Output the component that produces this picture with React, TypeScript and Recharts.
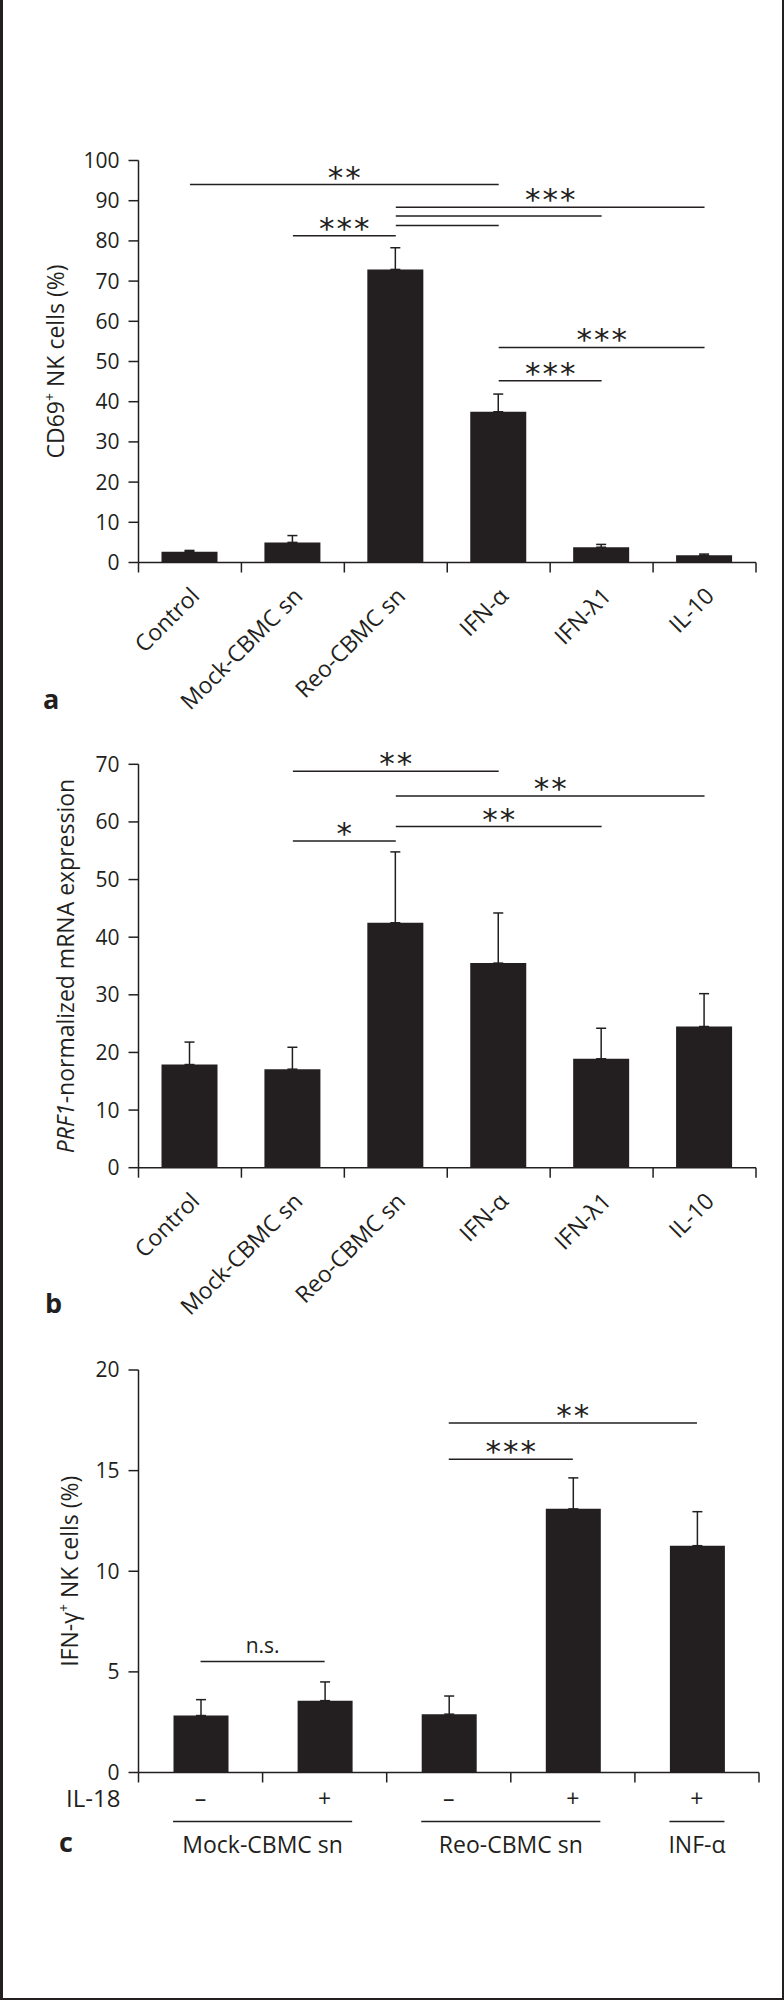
import React from 'react';
import { BarChart, Bar, XAxis, YAxis, ErrorBar, ReferenceLine } from 'recharts';

const INK = '#231f20';
const FONT = "'Open Sans', 'Noto Sans', sans-serif";
const STAR_FONT = "'DejaVu Sans', sans-serif";

// ---------- Panel a: CD69+ NK cells (%) ----------
const catsAB = ['Control', 'Mock-CBMC sn', 'Reo-CBMC sn', 'IFN-α', 'IFN-λ1', 'IL-10'];
const cd69Mean = [2.7, 5.0, 72.9, 37.5, 3.8, 1.8];
const cd69Err = [0.3, 1.7, 5.4, 4.4, 0.7, 0.3];
const ticksA = [0, 10, 20, 30, 40, 50, 60, 70, 80, 90, 100];
const sigFromA = ['Control', 'Mock-CBMC sn', 'Reo-CBMC sn', 'Reo-CBMC sn', 'Reo-CBMC sn', 'IFN-α', 'IFN-α'];
const sigToA = ['IFN-α', 'Reo-CBMC sn', 'IL-10', 'IFN-λ1', 'IFN-α', 'IL-10', 'IFN-λ1'];
const sigYA = [94, 81.3, 88.4, 86.2, 83.8, 53.5, 45.2];
const sigLabelA = ['**', '***', '***', '', '', '***', '***'];

// ---------- Panel b: PRF1 mRNA ----------
const prf1Mean = [17.9, 17.1, 42.5, 35.5, 18.9, 24.5];
const prf1Err = [3.9, 3.8, 12.3, 8.7, 5.3, 5.7];
const ticksB = [0, 10, 20, 30, 40, 50, 60, 70];
const sigFromB = ['Mock-CBMC sn', 'Reo-CBMC sn', 'Reo-CBMC sn', 'Mock-CBMC sn'];
const sigToB = ['IFN-α', 'IL-10', 'IFN-λ1', 'Reo-CBMC sn'];
const sigYB = [68.8, 64.5, 59.2, 56.7];
const sigLabelB = ['**', '**', '**', '*'];

// ---------- Panel c: IFN-γ+ NK cells (%) ----------
const cGroup = ['Mock-CBMC sn', 'Mock-CBMC sn', 'Reo-CBMC sn', 'Reo-CBMC sn', 'INF-α'];
const cIL18 = ['–', '+', '–', '+', '+'];
const ifngMean = [2.83, 3.57, 2.9, 13.1, 11.27];
const ifngErr = [0.79, 0.93, 0.9, 1.54, 1.69];
const ticksC = [0, 5, 10, 15, 20];
const sigFromC = [2, 2, 0];
const sigToC = [4, 3, 1];
const sigYC = [17.37, 15.56, 5.52];
const sigLabelC = ['**', '***', 'n.s.'];

const dataA = catsAB.map((name, i) => ({ name, v: cd69Mean[i], e: [0, cd69Err[i]] }));
const dataB = catsAB.map((name, i) => ({ name, v: prf1Mean[i], e: [0, prf1Err[i]] }));
const cKeys = cGroup.map((g, i) => `${g} ${cIL18[i]}`);
const dataC = cKeys.map((name, i) => ({ name, v: ifngMean[i], e: [0, ifngErr[i]] }));

const BAR_AB = 56;
const BAR_C = 55;

const starContent = (label: string) => (p: any) => {
  const vb = p.viewBox || {};
  if (!label || vb.x == null) return null;
  const isText = label === 'n.s.';
  return (
    <text
      x={vb.x + (vb.width || 0) / 2 + (isText ? 0 : 1)}
      y={isText ? vb.y - 8 : vb.y + 3}
      textAnchor="middle"
      fontSize={isText ? 21 : 31}
      fontFamily={isText ? FONT : STAR_FONT}
      letterSpacing={isText ? 0 : 2}
      fill={INK}
    >
      {label}
    </text>
  );
};

const RotTick = (props: any) => {
  const { x, y, payload, index } = props;
  const half = payload && payload.offset != null ? payload.offset : 0;
  const isLast = index === catsAB.length - 1;
  return (
    <g>
      <line x1={x - half} x2={x - half} y1={y} y2={y + 10} stroke={INK} strokeWidth={1.5} />
      {isLast && <line x1={x + half} x2={x + half} y1={y} y2={y + 10} stroke={INK} strokeWidth={1.5} />}
      <text
        transform={`translate(${x + 11},${y + 35}) rotate(-45)`}
        textAnchor="end"
        fontSize={23}
        fontFamily={FONT}
        fill={INK}
      >
        {payload.value}
      </text>
    </g>
  );
};

const CTick = (props: any) => {
  const { x, y, payload, index } = props;
  const half = payload && payload.offset != null ? payload.offset : 0;
  const isLast = index === cKeys.length - 1;
  const group = cGroup[index];
  const isStart = index === 0 || cGroup[index - 1] !== group;
  let n = 0;
  if (isStart) {
    for (let k = index; k < cGroup.length && cGroup[k] === group; k++) n++;
  }
  const groupMid = x + half * (n - 1);
  return (
    <g>
      <line x1={x - half} x2={x - half} y1={y} y2={y + 10} stroke={INK} strokeWidth={1.5} />
      {isLast && <line x1={x + half} x2={x + half} y1={y} y2={y + 10} stroke={INK} strokeWidth={1.5} />}
      <text x={x} y={y + 34} textAnchor="middle" fontSize={23} fontFamily={FONT} fill={INK}>
        {cIL18[index]}
      </text>
      {index === 0 && (
        <text x={x - half - 18} y={y + 34} textAnchor="end" fontSize={24} fontFamily={FONT} fill={INK}>
          IL-18
        </text>
      )}
      {isStart && (
        <g>
          <line
            x1={x - BAR_C / 2}
            x2={x + 2 * half * (n - 1) + BAR_C / 2}
            y1={y + 49}
            y2={y + 49}
            stroke={INK}
            strokeWidth={1.5}
          />
          <text x={groupMid} y={y + 80} textAnchor="middle" fontSize={23} fontFamily={FONT} fill={INK}>
            {group}
          </text>
        </g>
      )}
    </g>
  );
};

const titleContent = (panel: 'a' | 'b' | 'c', dx: number) => (p: any) => {
  const vb = p.viewBox || {};
  if (vb.x == null) return null;
  const cx = vb.x + dx;
  const cy = vb.y + vb.height / 2;
  return (
    <text
      transform={`translate(${cx},${cy}) rotate(-90)`}
      textAnchor="middle"
      fontSize={23}
      fontFamily={FONT}
      fill={INK}
    >
      {panel === 'a' && (
        <>
          <tspan>CD69</tspan>
          <tspan fontSize={14} dy={-9}>+</tspan>
          <tspan dy={9}> NK cells (%)</tspan>
        </>
      )}
      {panel === 'b' && (
        <>
          <tspan fontStyle="italic">PRF1</tspan>
          <tspan>-normalized mRNA expression</tspan>
        </>
      )}
      {panel === 'c' && (
        <>
          <tspan>IFN-γ</tspan>
          <tspan fontSize={14} dy={-9}>+</tspan>
          <tspan dy={9}> NK cells (%)</tspan>
        </>
      )}
    </text>
  );
};

const yTick = { fontSize: 21, fill: INK, fontFamily: FONT };
const axisStroke = { stroke: INK, strokeWidth: 1.5 };

export default function App() {
  return (
    <div style={{ position: 'absolute', left: 0, top: 0, width: 784, height: 2000, background: '#fff' }}>
      {/* Panel a */}
      <div style={{ position: 'absolute', left: 0, top: 0 }}>
        <BarChart width={784} height={720} data={dataA} margin={{ top: 160.5, right: 28, left: 38.5, bottom: 27.5 }}>
          <XAxis
            dataKey="name"
            interval={0}
            height={130}
            tickLine={false}
            tickSize={0}
            tickMargin={0}
            axisLine={axisStroke}
            tick={(p: any) => <RotTick {...p} />}
          />
          <YAxis
            width={100}
            domain={[0, 100]}
            ticks={ticksA}
            interval={0}
            tickSize={10}
            tickMargin={9}
            axisLine={axisStroke}
            tickLine={axisStroke}
            tick={yTick}
            label={{ content: titleContent('a', 25) }}
          />
          <Bar dataKey="v" fill={INK} barSize={BAR_AB} isAnimationActive={false}>
            <ErrorBar dataKey="e" direction="y" width={5} stroke={INK} strokeWidth={1.5} />
          </Bar>
          {sigYA.map((yv, i) => (
            <ReferenceLine
              key={`a${i}`}
              ifOverflow="visible"
              segment={[{ x: sigFromA[i], y: yv }, { x: sigToA[i], y: yv }]}
              stroke={INK}
              strokeWidth={1.5}
              label={{ content: starContent(sigLabelA[i]) }}
            />
          ))}
        </BarChart>
      </div>

      {/* Panel b */}
      <div style={{ position: 'absolute', left: 0, top: 720 }}>
        <BarChart width={784} height={600} data={dataB} margin={{ top: 44.3, right: 28, left: 38.5, bottom: 22.3 }}>
          <XAxis
            dataKey="name"
            interval={0}
            height={130}
            tickLine={false}
            tickSize={0}
            tickMargin={0}
            axisLine={axisStroke}
            tick={(p: any) => <RotTick {...p} />}
          />
          <YAxis
            width={100}
            domain={[0, 70]}
            ticks={ticksB}
            interval={0}
            tickSize={10}
            tickMargin={9}
            axisLine={axisStroke}
            tickLine={axisStroke}
            tick={yTick}
            label={{ content: titleContent('b', 35) }}
          />
          <Bar dataKey="v" fill={INK} barSize={BAR_AB} isAnimationActive={false}>
            <ErrorBar dataKey="e" direction="y" width={5} stroke={INK} strokeWidth={1.5} />
          </Bar>
          {sigYB.map((yv, i) => (
            <ReferenceLine
              key={`b${i}`}
              ifOverflow="visible"
              segment={[{ x: sigFromB[i], y: yv }, { x: sigToB[i], y: yv }]}
              stroke={INK}
              strokeWidth={1.5}
              label={{ content: starContent(sigLabelB[i]) }}
            />
          ))}
        </BarChart>
      </div>

      {/* Panel c */}
      <div style={{ position: 'absolute', left: 0, top: 1320 }}>
        <BarChart width={784} height={620} data={dataC} margin={{ top: 50, right: 25, left: 38.5, bottom: 67.5 }}>
          <XAxis
            dataKey="name"
            interval={0}
            height={100}
            tickLine={false}
            tickSize={0}
            tickMargin={0}
            axisLine={axisStroke}
            tick={(p: any) => <CTick {...p} />}
          />
          <YAxis
            width={100}
            domain={[0, 20]}
            ticks={ticksC}
            interval={0}
            tickSize={10}
            tickMargin={9}
            axisLine={axisStroke}
            tickLine={axisStroke}
            tick={yTick}
            label={{ content: titleContent('c', 39.5) }}
          />
          <Bar dataKey="v" fill={INK} barSize={BAR_C} isAnimationActive={false}>
            <ErrorBar dataKey="e" direction="y" width={5} stroke={INK} strokeWidth={1.5} />
          </Bar>
          {sigYC.map((yv, i) => (
            <ReferenceLine
              key={`c${i}`}
              ifOverflow="visible"
              segment={[{ x: cKeys[sigFromC[i]], y: yv }, { x: cKeys[sigToC[i]], y: yv }]}
              stroke={INK}
              strokeWidth={1.5}
              label={{ content: starContent(sigLabelC[i]) }}
            />
          ))}
        </BarChart>
      </div>

      {/* panel letters and frame */}
      <svg width={784} height={2000} style={{ position: 'absolute', left: 0, top: 0, pointerEvents: 'none' }}>
        <text x={43} y={709} fontSize={27} fontWeight="bold" fontFamily={FONT} fill={INK}>a</text>
        <text x={45} y={1313} fontSize={27} fontWeight="bold" fontFamily={FONT} fill={INK}>b</text>
        <text x={59} y={1852} fontSize={27} fontWeight="bold" fontFamily={FONT} fill={INK}>c</text>
        <line x1={1.5} y1={0} x2={1.5} y2={2000} stroke={INK} strokeWidth={3} />
        <line x1={783} y1={0} x2={783} y2={2000} stroke={INK} strokeWidth={2} />
        <line x1={0} y1={1999} x2={784} y2={1999} stroke={INK} strokeWidth={2} />
      </svg>
    </div>
  );
}
